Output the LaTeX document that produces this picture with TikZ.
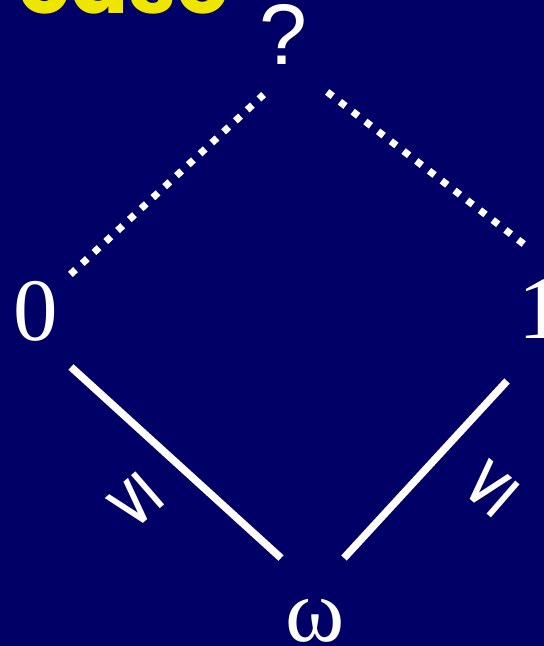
\documentclass[tikz,border=0pt]{standalone}
\usepackage{fontspec}
\setmainfont{Liberation Serif}
\newfontfamily\qfont{Liberation Sans}
\newfontfamily\symfont{DejaVu Sans}
\newfontfamily\casefont{Poppins}
\definecolor{bgnavy}{RGB}{0,0,102}
\definecolor{caseyellow}{RGB}{238,230,0}
\begin{document}
\begin{tikzpicture}[x=1pt,y=-1pt,
  lbl/.style={text=white,inner sep=0pt,anchor=base},
  dotline/.style={white,line width=7pt,line cap=butt,dash pattern=on 7pt off 9.1pt},
  solidline/.style={white,line width=7.5pt,line cap=butt},
  leq/.style={text=white,inner sep=0pt,font=\symfont\fontsize{70}{70}\selectfont}]
\useasboundingbox (0,0) rectangle (544,646);
\fill[bgnavy] (0,0) rectangle (544,646);
\begin{scope}
\clip (0,0) rectangle (544,646);
\node[anchor=base west,inner sep=0pt,text=caseyellow,font=\casefont\bfseries\fontsize{86}{86}\selectfont] (case) at (18,13) {case};
\node[lbl,font=\qfont\fontsize{86}{86}\selectfont] (q) at (283,64) {?};
\node[lbl,font=\fontsize{89}{89}\selectfont] (zero) at (36,340) {0};
\node[lbl,anchor=base west,font=\fontsize{89}{89}\selectfont] (one) at (518,338) {1};
\node[lbl,font=\fontsize{90}{90}\selectfont] (omega) at (315,641) {ω};
\end{scope}
\coordinate (zq) at (70.4,274.4);
\coordinate (qz) at (263.6,94.6);
\coordinate (qo) at (327.2,91.9);
\coordinate (oq) at (523.8,244.1);
\coordinate (zw) at (71,367);
\coordinate (wz) at (281,558);
\coordinate (ow) at (507,381);
\coordinate (wo) at (344,558);
\draw[dotline] (zq) -- (qz);
\draw[dotline] (qo) -- (oq);
\draw[solidline] (zw) -- (wz);
\draw[solidline] (ow) -- (wo);
\node[leq,rotate=131] (leqL) at (135,502) {≤};
\node[leq,rotate=49] (leqR) at (490,488) {≤};
\end{tikzpicture}
\end{document}
